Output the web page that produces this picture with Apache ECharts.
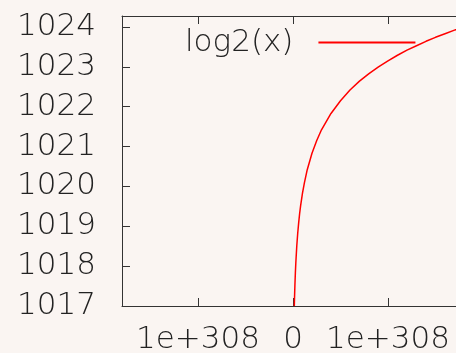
<!DOCTYPE html>
<html><head><meta charset="utf-8">
<script src="https://cdn.jsdelivr.net/npm/echarts@6/dist/echarts.min.js"></script>
<style>html,body{margin:0;padding:0;background:#faf5f2;}#c{width:456px;height:353px;}</style>
</head><body><div id="c"></div>
<script>
// x in units of 1e308, y = log2(x)
var xValues = [0.014, 0.016, 0.02, 0.025, 0.03, 0.04, 0.05, 0.06, 0.07, 0.08, 0.1, 0.12, 0.15, 0.2, 0.25, 0.3, 0.4, 0.5, 0.6, 0.7, 0.8, 0.9, 1.0, 1.1, 1.2, 1.3, 1.4, 1.5, 1.6, 1.7, 1.8];
var yValues = [1017.0, 1017.19, 1017.51, 1017.83, 1018.09, 1018.51, 1018.83, 1019.09, 1019.32, 1019.51, 1019.83, 1020.09, 1020.42, 1020.83, 1021.15, 1021.42, 1021.83, 1022.15, 1022.42, 1022.64, 1022.83, 1023.00, 1023.15, 1023.29, 1023.42, 1023.53, 1023.64, 1023.74, 1023.83, 1023.92, 1024.0];
var xTickValues = [-1, 0, 1];
var xTickLabels = ['1e+308', '0', '1e+308'];
var yTickValues = [1017, 1018, 1019, 1020, 1021, 1022, 1023, 1024];
var seriesName = 'log2(x)';

var data = xValues.map(function (x, i) { return [x, yValues[i]]; });
var FONT = 'DejaVu Sans';
var TXT = '#222222';
var AX = '#333333';
var FW = 200;
var FS = 31;

var chart = echarts.init(document.getElementById('c'));
chart.setOption({
  backgroundColor: '#faf5f2',
  animation: false,
  grid: { left: 122, top: 16, bottom: 47, right: 0, containLabel: false, outerBoundsMode: 'none' },
  legend: {
    data: [seriesName],
    left: 180, top: 22,
    align: 'right',
    icon: 'rect',
    itemWidth: 97, itemHeight: 2,
    textStyle: { fontFamily: FONT, fontWeight: FW, fontSize: FS, color: TXT, padding: [0, 20, 0, 0] },
    itemStyle: { color: '#ff0000' }
  },
  xAxis: [{
    type: 'value', min: -1.8, max: 1.716, position: 'bottom',
    axisLine: { show: true, onZero: false, lineStyle: { color: AX, width: 1 } },
    axisTick: { show: true, inside: true, length: 8, customValues: xTickValues, lineStyle: { color: AX } },
    axisLabel: {
      show: true, customValues: xTickValues, margin: 18,
      fontFamily: FONT, fontWeight: FW, fontSize: FS, color: TXT,
      formatter: function (v) { var i = xTickValues.indexOf(v); return i >= 0 ? xTickLabels[i] : ''; }
    },
    splitLine: { show: false }
  }, {
    type: 'value', min: -1.8, max: 1.716, position: 'top',
    axisLine: { show: true, onZero: false, lineStyle: { color: AX, width: 1 } },
    axisTick: { show: true, inside: true, length: 8, customValues: xTickValues, lineStyle: { color: AX } },
    axisLabel: { show: false },
    splitLine: { show: false }
  }],
  yAxis: {
    type: 'value', min: 1017, max: 1024.275,
    axisLine: { show: true, onZero: false, lineStyle: { color: AX, width: 1 } },
    axisTick: { show: true, inside: true, length: 8, customValues: yTickValues, lineStyle: { color: AX } },
    axisLabel: {
      show: true, customValues: yTickValues, margin: 26,
      fontFamily: FONT, fontWeight: FW, fontSize: FS, color: TXT,
      formatter: function (v) { return String(v); }
    },
    splitLine: { show: false }
  },
  series: [{
    name: seriesName, type: 'line', data: data, xAxisIndex: 0,
    showSymbol: false, smooth: false, clip: true,
    lineStyle: { color: '#ff0000', width: 1.5 },
    itemStyle: { color: '#ff0000' }
  }]
});
</script></body></html>
